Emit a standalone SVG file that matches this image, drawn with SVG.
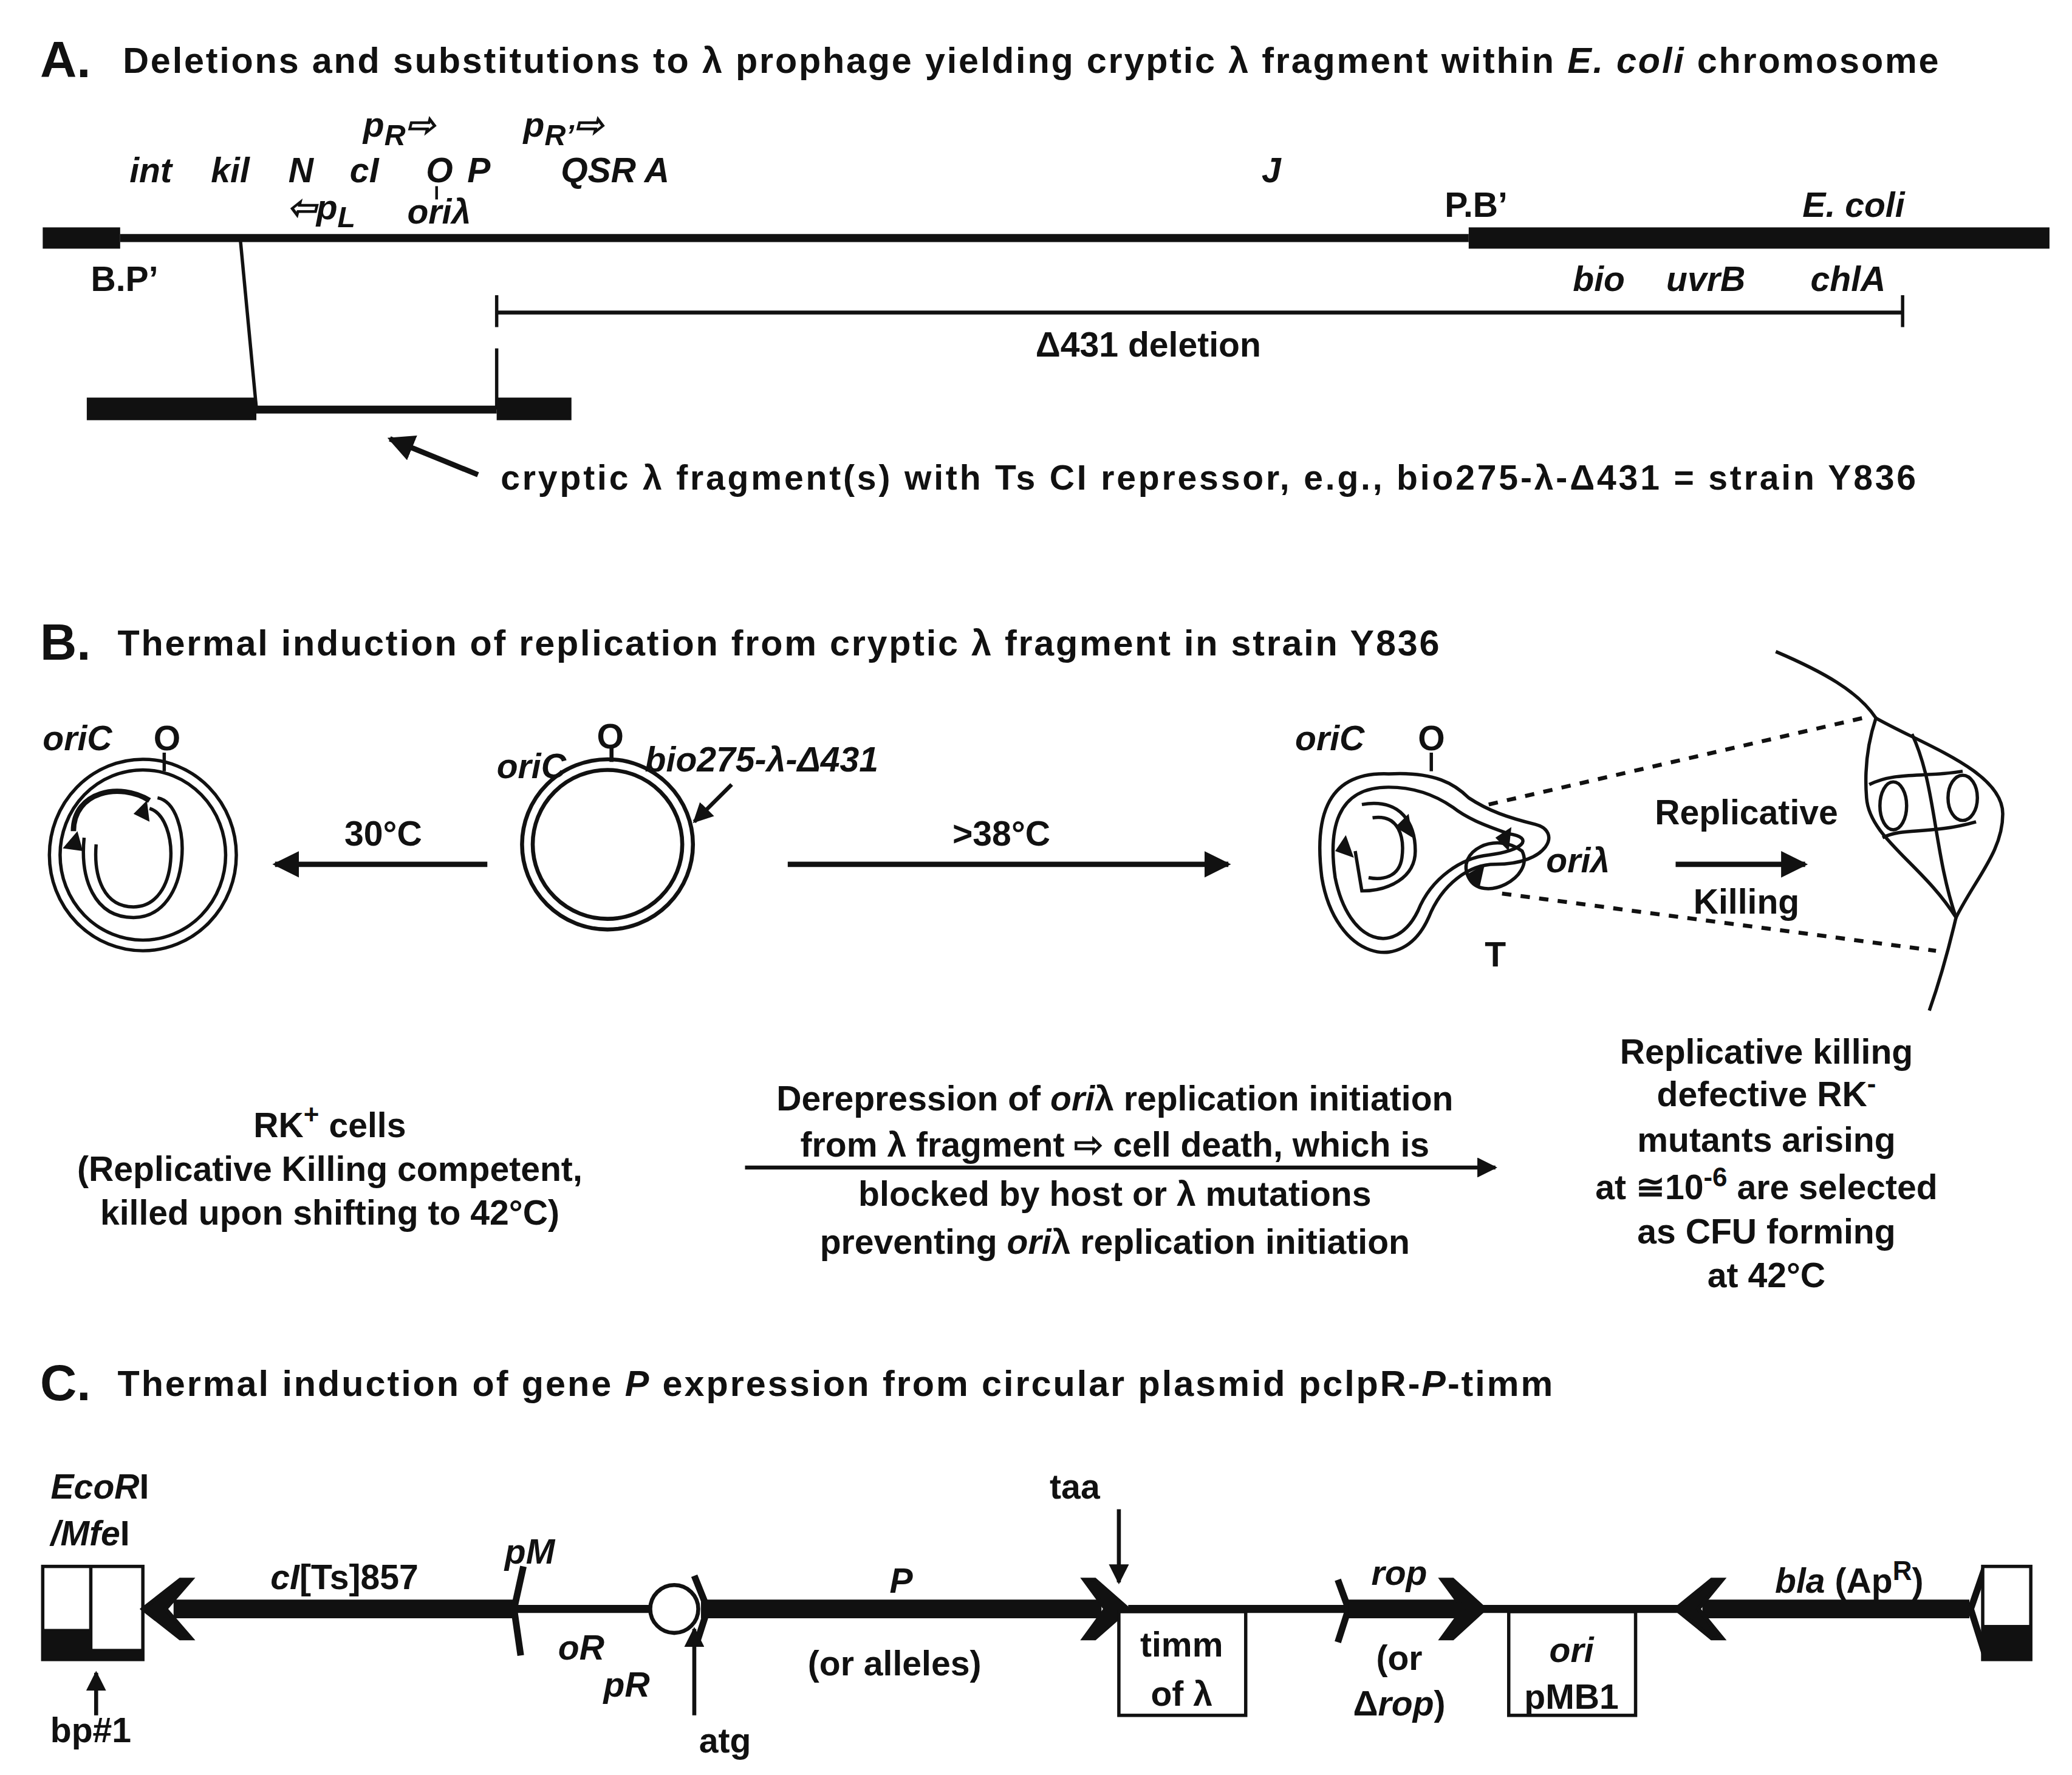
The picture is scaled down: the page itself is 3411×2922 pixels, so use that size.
<svg xmlns="http://www.w3.org/2000/svg" width="3411" height="2922" viewBox="0 0 3411 2922">
<style>
text{font-family:"Liberation Sans",Arial,sans-serif;font-weight:bold;fill:#111;font-size:26px}
.t{font-size:27px}.big{font-size:38px}.i{font-style:italic}.m{text-anchor:middle}
.ln{stroke:#111;fill:none}
</style>
<defs>
<marker id="ah" viewBox="0 0 10 10" refX="9" refY="5" markerWidth="5" markerHeight="5" orient="auto"><path d="M0,0 L10,5 L0,10 z" fill="#111"/></marker>
</defs>
<rect width="3411" height="2922" fill="#fff"/>
<g transform="scale(2.198 2.189)">
<g id="sectionA">
<text x="30" y="58" class="big">A.</text>
<text x="92" y="55" class="t" textLength="1360">Deletions and substitutions to λ prophage yielding cryptic λ fragment within <tspan class="i">E. coli</tspan> chromosome</text>
<line x1="90" y1="179" x2="1100" y2="179" class="ln" stroke-width="6"/>
<rect x="32" y="171" width="58" height="16" fill="#111"/>
<rect x="1100" y="171" width="435" height="16" fill="#111"/>
<text x="97" y="137" class="i">int</text><text x="158" y="137" class="i">kil</text><text x="216" y="137" class="i">N</text><text x="262" y="137" class="i">cI</text><text x="319" y="137" class="i">O</text><text x="350" y="137" class="i">P</text><text x="420" y="137" class="i">QSR A</text><text x="945" y="137" class="i">J</text>
<text x="272" y="103" class="i">p<tspan dy="6" font-size="22">R</tspan><tspan dy="-6">⇨</tspan></text>
<text x="392" y="103" class="i">p<tspan dy="6" font-size="22">R’</tspan><tspan dy="-6">⇨</tspan></text>
<text x="215" y="165" class="i">⇦p<tspan dy="6" font-size="22">L</tspan></text>
<text x="305" y="168" class="i">oriλ</text>
<line x1="327" y1="140" x2="327" y2="150" class="ln" stroke-width="2"/>
<text x="1082" y="163">P.B’</text><text x="1350" y="163" class="i">E. coli</text>
<text x="68" y="219">B.P’</text>
<text x="1178" y="219" class="i">bio</text><text x="1248" y="219" class="i">uvrB</text><text x="1356" y="219" class="i">chlA</text>
<line x1="180" y1="180" x2="192" y2="307" class="ln" stroke-width="2.5"/>
<line x1="372" y1="235" x2="1425" y2="235" class="ln" stroke-width="3"/>
<line x1="372" y1="222" x2="372" y2="246" class="ln" stroke-width="2.5"/>
<line x1="1425" y1="222" x2="1425" y2="246" class="ln" stroke-width="2.5"/>
<text x="860" y="268" class="m">Δ431 deletion</text>
<line x1="372" y1="262" x2="372" y2="308" class="ln" stroke-width="2.5"/>
<rect x="65" y="299" width="127" height="17" fill="#111"/>
<line x1="192" y1="308" x2="372" y2="308" class="ln" stroke-width="6"/>
<rect x="372" y="299" width="56" height="17" fill="#111"/>
<line x1="358" y1="357" x2="292" y2="330" class="ln" stroke-width="4" marker-end="url(#ah)"/>
<text x="375" y="368" textLength="1060">cryptic λ fragment(s) with Ts CI repressor, e.g., bio275-λ-Δ431 = strain Y836</text>
</g>
<g id="sectionB">
<text x="30" y="496" class="big">B.</text>
<text x="88" y="493" class="t" textLength="990">Thermal induction of replication from cryptic λ fragment in strain Y836</text>
<g id="leftPlasmid" class="ln" stroke-width="2.5">
<ellipse cx="107" cy="643" rx="70" ry="72"/>
<ellipse cx="107" cy="643" rx="62" ry="64"/>
<path d="M118,600 C145,605 145,690 100,690 C70,690 60,660 63,630"/>
<path d="M112,608 C135,615 135,682 100,682 C78,682 70,660 72,635"/>
<path d="M55,625 C55,595 90,588 112,602" stroke-width="4"/>
<line x1="123" y1="566" x2="123" y2="580"/>
</g>
<path d="M47,638 L58,625 L62,640 z" fill="#111"/><path d="M112,618 L110,602 L100,612 z" fill="#111"/>
<text x="32" y="564" class="i">oriC</text><text x="115" y="564">O</text>
<g id="midPlasmid" class="ln" stroke-width="3">
<circle cx="455" cy="635" r="64"/><circle cx="455" cy="635" r="56"/>
<line x1="458" y1="560" x2="458" y2="573"/>
</g>
<text x="372" y="585" class="i">oriC</text><text x="447" y="563">O</text>
<text x="483" y="580" class="i">bio275-λ-Δ431</text>
<line x1="548" y1="590" x2="520" y2="618" class="ln" stroke-width="3" marker-end="url(#ah)"/>
<line x1="365" y1="650" x2="206" y2="650" class="ln" stroke-width="4" marker-end="url(#ah)"/>
<text x="287" y="636" class="m">30°C</text>
<line x1="590" y1="650" x2="920" y2="650" class="ln" stroke-width="4" marker-end="url(#ah)"/>
<text x="750" y="636" class="m">&gt;38°C</text>
<g id="rightPlasmid" class="ln" stroke-width="2.5">
<path d="M1040,582 C990,580 985,620 990,660 C1000,720 1050,735 1070,690 C1080,665 1100,650 1120,650 C1160,650 1170,625 1150,620 C1130,615 1115,610 1100,600 C1090,590 1075,580 1040,582 z"/>
<path d="M1040,592 C1000,592 995,625 1000,660 C1010,710 1045,720 1062,685 C1072,660 1095,645 1115,643 C1140,640 1150,630 1130,627 C1110,620 1098,615 1088,607 C1075,598 1060,592 1040,592 z"/>
<path d="M1020,605 C1050,600 1060,620 1060,640 C1060,660 1040,670 1020,670 L1015,640"/>
<path d="M1028,615 C1048,612 1052,630 1050,645 C1048,660 1035,662 1025,660"/>
<path d="M1100,660 C1090,640 1120,625 1140,640 C1150,660 1110,680 1100,660"/>
<line x1="1072" y1="566" x2="1072" y2="580"/>
</g>
<path d="M1008,628 L1014,645 L1000,640 z" fill="#111"/><path d="M1055,612 L1058,630 L1045,622 z" fill="#111"/>
<path d="M1120,630 L1132,622 L1130,640 z" fill="#111"/><path d="M1098,658 L1112,650 L1108,668 z" fill="#111"/>
<text x="970" y="564" class="i">oriC</text><text x="1062" y="564">O</text>
<text x="1158" y="656" class="i">oriλ</text><text x="1112" y="727">T</text>
<line x1="1115" y1="605" x2="1395" y2="540" class="ln" stroke-width="3" stroke-dasharray="7 7"/>
<line x1="1125" y1="672" x2="1450" y2="715" class="ln" stroke-width="3" stroke-dasharray="7 7"/>
<text x="1308" y="620" class="m">Replicative</text>
<line x1="1255" y1="650" x2="1352" y2="650" class="ln" stroke-width="4" marker-end="url(#ah)"/>
<text x="1308" y="687" class="m">Killing</text>
<g id="cellMass" class="ln" stroke-width="2.5">
<path d="M1330,490 C1365,505 1392,520 1405,540"/>
<path d="M1405,540 C1440,560 1500,580 1500,612 C1500,640 1480,660 1465,690 C1440,650 1400,630 1398,600 C1396,575 1400,555 1405,540 z"/>
<path d="M1465,690 C1458,720 1452,740 1445,760"/>
<path d="M1432,552 C1450,590 1448,640 1465,690"/>
<path d="M1400,590 C1420,580 1440,585 1470,580"/>
<path d="M1410,630 C1425,622 1445,628 1480,618"/>
<ellipse cx="1418" cy="606" rx="10" ry="18"/><ellipse cx="1470" cy="600" rx="11" ry="17"/>
</g>
<text x="247" y="855" class="m">RK<tspan dy="-10" font-size="20">+</tspan><tspan dy="10"> cells</tspan></text>
<text x="247" y="888" class="m">(Replicative Killing competent,</text>
<text x="247" y="921" class="m">killed upon shifting to 42°C)</text>
<text x="835" y="835" class="m">Derepression of <tspan class="i">ori</tspan>λ replication initiation</text>
<text x="835" y="870" class="m">from λ fragment ⇨ cell death, which is</text>
<line x1="558" y1="878" x2="1120" y2="878" class="ln" stroke-width="3" marker-end="url(#ah)"/>
<text x="835" y="907" class="m">blocked by host or λ mutations</text>
<text x="835" y="943" class="m">preventing <tspan class="i">ori</tspan>λ replication initiation</text>
<text x="1323" y="800" class="m">Replicative killing</text>
<text x="1323" y="832" class="m">defective RK<tspan dy="-10" font-size="20">-</tspan></text>
<text x="1323" y="866" class="m">mutants arising</text>
<text x="1323" y="902" class="m">at ≅10<tspan dy="-10" font-size="20">-6</tspan><tspan dy="10"> are selected</tspan></text>
<text x="1323" y="935" class="m">as CFU forming</text>
<text x="1323" y="968" class="m">at 42°C</text>
</g>
<g id="sectionC">
<text x="30" y="1053" class="big">C.</text>
<text x="88" y="1050" class="t" textLength="1075">Thermal induction of gene <tspan class="i">P</tspan> expression from circular plasmid pclpR-<tspan class="i">P</tspan>-timm</text>
<text x="38" y="1127" class="i">EcoR<tspan font-style="normal">I</tspan></text>
<text x="38" y="1162" class="i">/Mfe<tspan font-style="normal">I</tspan></text>
<rect x="32" y="1178" width="75" height="70" fill="#fff" stroke="#111" stroke-width="2.5"/>
<line x1="68" y1="1178" x2="68" y2="1248" class="ln" stroke-width="2.5"/>
<rect x="32" y="1225" width="36" height="23" fill="#111"/><rect x="68" y="1240" width="39" height="8" fill="#111"/>
<line x1="72" y1="1290" x2="72" y2="1258" class="ln" stroke-width="3" marker-end="url(#ah)"/>
<text x="68" y="1310" class="m">bp#1</text>
<line x1="130" y1="1210" x2="385" y2="1210" class="ln" stroke-width="14"/>
<path d="M107,1210 L135,1188 L143,1188 L124,1210 L143,1232 L135,1232 z" fill="#111" stroke="#111" stroke-width="3"/>
<text x="258" y="1195" class="m"><tspan class="i">cI</tspan>[Ts]857</text>
<line x1="385" y1="1210" x2="490" y2="1210" class="ln" stroke-width="6"/>
<path d="M392,1178 L385,1210 L390,1245" class="ln" stroke-width="5"/>
<text x="378" y="1176" class="i">pM</text>
<text x="418" y="1248" class="i">oR</text><text x="452" y="1276" class="i">pR</text>
<circle cx="505" cy="1210" r="18" fill="#fff" stroke="#111" stroke-width="3"/>
<path d="M520,1185 L530,1210 L522,1235" class="ln" stroke-width="5"/>
<line x1="525" y1="1210" x2="825" y2="1210" class="ln" stroke-width="14"/>
<path d="M845,1210 L820,1188 L812,1188 L828,1210 L812,1232 L820,1232 z" fill="#111" stroke="#111" stroke-width="3"/>
<line x1="520" y1="1290" x2="520" y2="1225" class="ln" stroke-width="3" marker-end="url(#ah)"/>
<text x="543" y="1318" class="m">atg</text>
<text x="805" y="1127" class="m">taa</text>
<line x1="838" y1="1135" x2="838" y2="1190" class="ln" stroke-width="3" marker-end="url(#ah)"/>
<text x="675" y="1198" class="m i">P</text>
<text x="670" y="1260" class="m">(or alleles)</text>
<line x1="845" y1="1210" x2="1110" y2="1210" class="ln" stroke-width="6"/>
<rect x="838" y="1212" width="95" height="78" fill="#fff" stroke="#111" stroke-width="2.5"/>
<text x="885" y="1246" class="m">timm</text><text x="885" y="1283" class="m">of λ</text>
<path d="M1002,1188 L1010,1210 L1002,1235" class="ln" stroke-width="5"/>
<line x1="1010" y1="1210" x2="1095" y2="1210" class="ln" stroke-width="14"/>
<path d="M1112,1210 L1088,1188 L1080,1188 L1096,1210 L1080,1232 L1088,1232 z" fill="#111" stroke="#111" stroke-width="3"/>
<text x="1048" y="1192" class="m i">rop</text>
<text x="1048" y="1256" class="m">(or</text><text x="1048" y="1290" class="m">Δ<tspan class="i">rop</tspan>)</text>
<line x1="1110" y1="1210" x2="1260" y2="1210" class="ln" stroke-width="6"/>
<rect x="1130" y="1212" width="95" height="78" fill="#fff" stroke="#111" stroke-width="2.5"/>
<text x="1177" y="1250" class="m i">ori</text><text x="1177" y="1285" class="m">pMB1</text>
<line x1="1275" y1="1210" x2="1475" y2="1210" class="ln" stroke-width="14"/>
<path d="M1255,1210 L1282,1188 L1290,1188 L1272,1210 L1290,1232 L1282,1232 z" fill="#111" stroke="#111" stroke-width="3"/>
<text x="1385" y="1198" class="m"><tspan class="i">bla</tspan> (Ap<tspan dy="-10" font-size="20">R</tspan><tspan dy="10">)</tspan></text>
<path d="M1487,1178 L1476,1210 L1487,1245" class="ln" stroke-width="5"/>
<rect x="1485" y="1178" width="36" height="70" fill="#fff" stroke="#111" stroke-width="2.5"/>
<rect x="1485" y="1222" width="36" height="26" fill="#111"/>
</g>
</g>
</svg>
